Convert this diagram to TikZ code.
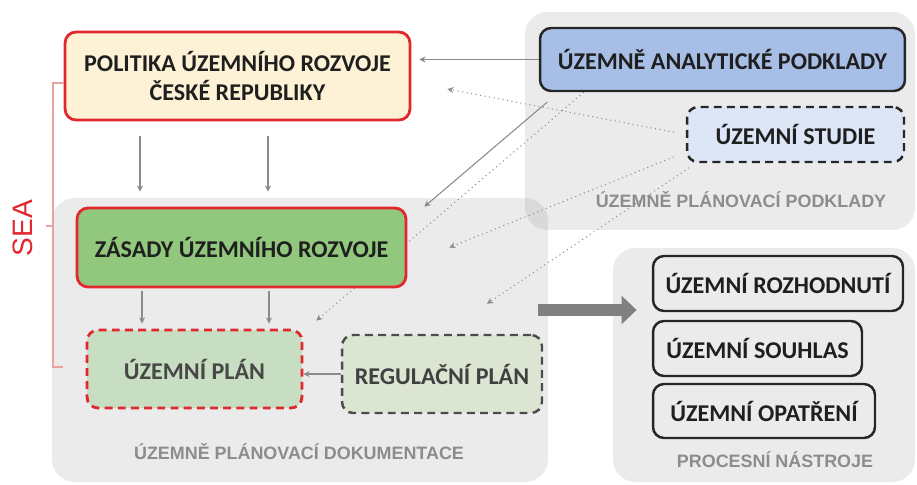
\documentclass[tikz,border=0pt]{standalone}
\usepackage{fontspec}
\setmainfont{Carlito}
\newfontfamily\labelfont{Liberation Sans}
\usetikzlibrary{calc, arrows.meta, backgrounds}
\definecolor{uprred}{HTML}{E0282E}
\definecolor{searose}{HTML}{E8A2A2}
\definecolor{purcream}{HTML}{FDF2D5}
\definecolor{zurgreen}{HTML}{92C87D}
\definecolor{uapblue}{HTML}{A7BFE6}
\definecolor{usblue}{HTML}{DCE6F6}
\definecolor{upgreen}{HTML}{C8DEC2}
\definecolor{rpgreen}{HTML}{DCE5D2}
\definecolor{lblgray}{HTML}{8C8C8C}
\definecolor{flowgray}{HTML}{8A8A8A}

\tikzset{
  box/.style={rounded corners=0.22cm, inner sep=0pt, align=center,
    font=\fontsize{13.7}{16.5}\selectfont\bfseries, text=black!88},
  redbox/.style={box, draw=uprred, line width=1.6pt},
  blackbox/.style={box, draw=black!85, line width=1.4pt},
  dashbox/.style={dash pattern=on 4.5pt off 3pt},
  panel/.style={rounded corners=0.45cm, fill=black, fill opacity=0.08, inner sep=0pt},
  panellabel/.style={font=\labelfont\fontsize{10.2}{11}\selectfont\bfseries, text=lblgray},
  flow/.style={draw=flowgray, line width=0.6pt, -{Stealth[length=3.5pt, width=3.5pt]}},
  dotflow/.style={flow, dotted},
  bigarrow/.style={draw=black!50, line width=6.8pt, -{Triangle[length=8.5pt, width=15.5pt]}},
}

\begin{document}
\begin{tikzpicture}[x=0.02cm, y=-0.02cm]
\useasboundingbox (0,0) rectangle (917,484);

% planning instruments
\node[redbox, fill=purcream, minimum width=6.9cm, minimum height=1.76cm] (politika) at (237.5,76)
  {POLITIKA ÚZEMNÍHO ROZVOJE\\ČESKÉ REPUBLIKY};
\node[blackbox, fill=uapblue, minimum width=7.3cm, minimum height=1.26cm] (uap) at (722.5,59.5)
  {ÚZEMNĚ ANALYTICKÉ PODKLADY};
\node[blackbox, dashbox, fill=usblue, minimum width=4.34cm, minimum height=1.1cm] (studie) at (795.5,134.5)
  {ÚZEMNÍ STUDIE};
\node[redbox, fill=zurgreen, minimum width=6.58cm, minimum height=1.58cm] (zasady) at (241.5,247.5)
  {ZÁSADY ÚZEMNÍHO ROZVOJE};
\node[redbox, dashbox, fill=upgreen, text=black!72, minimum width=4.3cm, minimum height=1.56cm] (uplan) at (194.5,369)
  {ÚZEMNÍ PLÁN};
\node[blackbox, dashbox, draw=black!70, fill=rpgreen, text=black!75, minimum width=4cm, minimum height=1.56cm] (regplan) at (442,374)
  {REGULAČNÍ PLÁN};

% process tools
\node[blackbox, minimum width=5cm, minimum height=1.1cm] (rozhodnuti) at (778,283.5) {ÚZEMNÍ ROZHODNUTÍ};
\node[blackbox, minimum width=4.18cm, minimum height=1.1cm] (souhlas) at (757.5,348.5) {ÚZEMNÍ SOUHLAS};
\node[blackbox, minimum width=4.44cm, minimum height=1.08cm] (opatreni) at (764,411) {ÚZEMNÍ OPATŘENÍ};

\node[panellabel] (lblpodklady) at (741,200) {ÚZEMNĚ PLÁNOVACÍ PODKLADY};
\node[panellabel] (lbldokumentace) at (299,452) {ÚZEMNĚ PLÁNOVACÍ DOKUMENTACE};
\node[panellabel] (lblnastroje) at (775,460) {PROCESNÍ NÁSTROJE};

\begin{pgfonlayer}{background}
  \node[panel, minimum width=7.8cm, minimum height=4.36cm] (podklady) at (720,121) {};
  \node[panel, minimum width=9.92cm, minimum height=5.68cm] (dokumentace) at (300,340) {};
  \node[panel, minimum width=6.04cm, minimum height=4.68cm] (nastroje) at (764,365) {};

  % links between levels
  \foreach \x in {140,268}
    \draw[flow, shorten <=0.3cm, shorten >=0.3cm] (politika.south -| \x,0) -- (zasady.north -| \x,0);
  \foreach \x in {142,269}
    \draw[flow, shorten <=0.06cm, shorten >=0.1cm] (zasady.south -| \x,0) -- (uplan.north -| \x,0);
  \draw[flow, shorten >=0.16cm] (uap.west) -- (politika.east |- uap.west);
  \draw[flow, shorten <=0.3cm] ([xshift=0.4cm]uap.south west) -- ([xshift=0.34cm]zasady.north east);
  \draw[dotflow] ([xshift=0.9cm]uap.south west) -- ([xshift=0.26cm, yshift=0.16cm]uplan.north east);
  \draw[dotflow, shorten <=0.24cm] (studie.west) -- ([xshift=0.72cm, yshift=-0.26cm]politika.east);
  \draw[dotflow, shorten <=0.26cm] ([yshift=-0.35cm]studie.west) -- ([xshift=0.84cm]zasady.east);
  \draw[dotflow, shorten <=0.16cm] ([xshift=0.2cm]studie.south west) -- ([xshift=0.9cm, yshift=0.6cm]regplan.north);
\end{pgfonlayer}

\draw[flow] (regplan.west) -- (uplan.east |- regplan.west);
\draw[bigarrow] ($(dokumentace.east |- 0,310)+(-10,0)$) -- ($(nastroje.west |- 0,310)+(24,0)$);

% SEA bracket
\node[rotate=90, text=uprred, font=\labelfont\fontsize{16}{16}\selectfont] (sea) at (23,228) {SEA};
\draw[searose, line width=0.8pt] (politika.west |- 0,83) -- (53,83) -- (53,367) -- (63,367);
\draw[searose, line width=0.8pt] (53,226) -- (46,226);
\end{tikzpicture}
\end{document}
